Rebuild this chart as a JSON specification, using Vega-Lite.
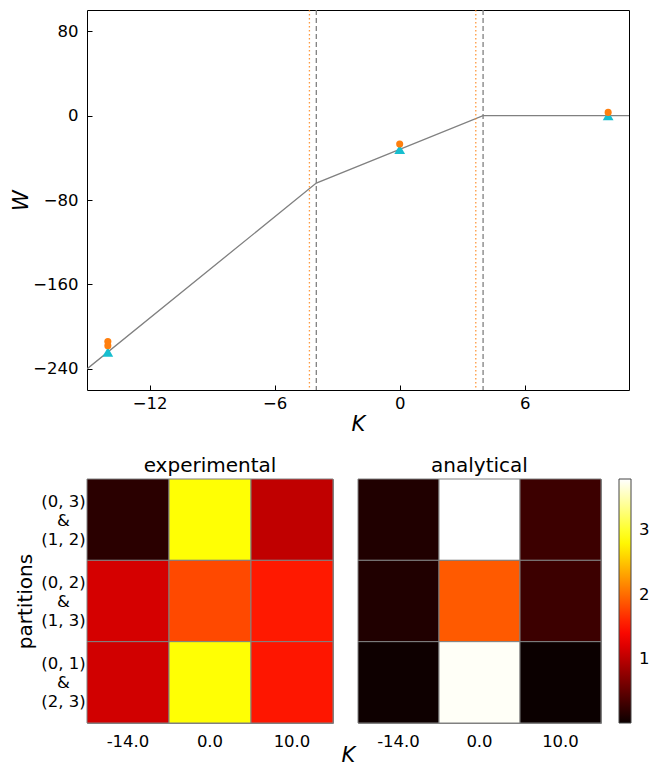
{
  "$schema": "https://vega.github.io/schema/vega-lite/v6.json",
  "padding": {"left": 10, "top": 8, "right": 5, "bottom": 5},
  "config": {
    "font": "DejaVu Sans",
    "axis": {"labelFont": "DejaVu Sans", "titleFont": "DejaVu Sans", "labelFontSize": 16.5, "titleFontSize": 21, "labelColor": "black", "titleColor": "black", "grid": false, "domain": false, "titleFontWeight": "normal"},
    "title": {"font": "DejaVu Sans", "fontWeight": "normal", "color": "black", "fontSize": 20},
    "legend": {"labelFont": "DejaVu Sans", "labelFontSize": 16.5}
  },
  "datasets": {
    "line": [{"K": -15, "W": -240}, {"K": -4, "W": -64}, {"K": 4, "W": 0}, {"K": 11, "W": 0}],
    "exp_pts": [{"K": -14, "W": -214}, {"K": -14, "W": -218}, {"K": 0, "W": -27}, {"K": 10, "W": 3}],
    "ana_pts": [{"K": -14, "W": -224}, {"K": 0, "W": -32}, {"K": 10, "W": 0}],
    "gray_lines": [{"K": -4}, {"K": 4}],
    "orange_lines": [{"K": -4.33}, {"K": 3.65}],
    "experimental": [
      {"K": "-14.0", "partition": "(0, 3) & (1, 2)", "value": 0.18},
      {"K": "0.0", "partition": "(0, 3) & (1, 2)", "value": 2.85},
      {"K": "10.0", "partition": "(0, 3) & (1, 2)", "value": 1.03},
      {"K": "-14.0", "partition": "(0, 2) & (1, 3)", "value": 1.15},
      {"K": "0.0", "partition": "(0, 2) & (1, 3)", "value": 1.8},
      {"K": "10.0", "partition": "(0, 2) & (1, 3)", "value": 1.53},
      {"K": "-14.0", "partition": "(0, 1) & (2, 3)", "value": 1.13},
      {"K": "0.0", "partition": "(0, 1) & (2, 3)", "value": 2.85},
      {"K": "10.0", "partition": "(0, 1) & (2, 3)", "value": 1.51}
    ],
    "analytical": [
      {"K": "-14.0", "partition": "(0, 3) & (1, 2)", "value": 0.12},
      {"K": "0.0", "partition": "(0, 3) & (1, 2)", "value": 3.8},
      {"K": "10.0", "partition": "(0, 3) & (1, 2)", "value": 0.28},
      {"K": "-14.0", "partition": "(0, 2) & (1, 3)", "value": 0.12},
      {"K": "0.0", "partition": "(0, 2) & (1, 3)", "value": 1.9},
      {"K": "10.0", "partition": "(0, 2) & (1, 3)", "value": 0.28},
      {"K": "-14.0", "partition": "(0, 1) & (2, 3)", "value": 0.02},
      {"K": "0.0", "partition": "(0, 1) & (2, 3)", "value": 3.77},
      {"K": "10.0", "partition": "(0, 1) & (2, 3)", "value": 0.0}
    ]
  },
  "vconcat": [
    {
      "width": 542,
      "height": 380,
      "view": {"stroke": "black", "strokeWidth": 1},
      "layer": [
        {
          "data": {"name": "line"},
          "mark": {"type": "line", "color": "#808080", "strokeWidth": 1.3, "clip": true},
          "encoding": {
            "x": {"field": "K", "type": "quantitative", "scale": {"domain": [-15, 11], "nice": false, "zero": false},
                  "axis": {"orient": "bottom", "values": [-12, -6, 0, 6], "tickSize": -5, "tickColor": "black", "labelPadding": 10, "labelFontSize": 16.5, "title": "K", "titleFontSize": 21, "titleFontStyle": "italic", "titlePadding": 2}},
            "y": {"field": "W", "type": "quantitative", "scale": {"domain": [-260, 100], "nice": false, "zero": false},
                  "axis": {"orient": "left", "values": [80, 0, -80, -160, -240], "tickSize": -5, "tickColor": "black", "labelPadding": 14, "labelFontSize": 16.5, "title": "W", "titleFontSize": 21, "titleFontStyle": "italic", "titlePadding": 1}}
          }
        },
        {
          "data": {"name": "gray_lines"},
          "mark": {"type": "rule", "color": "#808080", "strokeDash": [5, 3], "strokeWidth": 1.3},
          "encoding": {
            "x": {"field": "K", "type": "quantitative"}
          }
        },
        {
          "data": {"name": "orange_lines"},
          "mark": {"type": "rule", "color": "#ff7f0e", "strokeDash": [1.5, 2.5], "strokeWidth": 1.3, "opacity": 0.8},
          "encoding": {
            "x": {"field": "K", "type": "quantitative"}
          }
        },
        {
          "data": {"name": "ana_pts"},
          "mark": {"type": "point", "shape": "triangle-up", "filled": true, "color": "#17becf", "size": 115, "opacity": 1},
          "encoding": {
            "x": {"field": "K", "type": "quantitative"},
            "y": {"field": "W", "type": "quantitative"}
          }
        },
        {
          "data": {"name": "exp_pts"},
          "mark": {"type": "point", "shape": "circle", "filled": true, "color": "#ff7f0e", "size": 50, "opacity": 1},
          "encoding": {
            "x": {"field": "K", "type": "quantitative"},
            "y": {"field": "W", "type": "quantitative"}
          }
        }
      ]
    },
    {
      "spacing": 25,
      "bounds": "flush",
      "hconcat": [
        {
          "title": {"text": "experimental", "fontSize": 20, "offset": 3},
          "width": 246,
          "height": 244,
          "view": {"stroke": "#808080"},
          "data": {"name": "experimental"},
          "mark": {"type": "rect", "stroke": "#808080", "strokeWidth": 1},
          "encoding": {
            "x": {"field": "K", "type": "ordinal", "sort": ["-14.0", "0.0", "10.0"],
                  "axis": {"labelAngle": 0, "ticks": false, "labelFontSize": 16.5, "labelPadding": 10, "title": "K", "titleFontStyle": "italic", "titleFontSize": 21, "titleX": 261, "titleY": 32, "titleBaseline": "middle"}},
            "y": {"field": "partition", "type": "ordinal", "sort": ["(0, 3) & (1, 2)", "(0, 2) & (1, 3)", "(0, 1) & (2, 3)"],
                  "axis": {"ticks": false, "labelExpr": "[slice(datum.label, 0, 6), '&', slice(datum.label, 9)]", "labelAlign": "center", "labelPadding": 24, "labelOffset": -18, "labelFontSize": 16.5, "labelLineHeight": 19, "title": "partitions", "titleFontSize": 20, "titlePadding": 5}},
            "color": {"field": "value", "type": "quantitative",
                      "scale": {"type": "linear", "nice": false, "zero": false, "domain": [0, 0.19, 0.38, 0.57, 0.76, 0.95, 1.14, 1.33, 1.52, 1.71, 1.9, 2.09, 2.28, 2.47, 2.66, 2.85, 3.04, 3.23, 3.42, 3.61, 3.8],
                                "range": ["#0b0000", "#2c0000", "#4e0000", "#6f0000", "#900000", "#b20000", "#d30000", "#f50000", "#ff1700", "#ff3900", "#ff5a00", "#ff7c00", "#ff9d00", "#ffbf00", "#ffe000", "#ffff04", "#ffff36", "#ffff68", "#ffff9b", "#ffffcd", "#ffffff"], "interpolate": "rgb"},
                      "legend": {"orient": "none", "legendX": 532, "legendY": 469, "title": null, "direction": "vertical", "gradientLength": 244, "gradientThickness": 12, "gradientStrokeColor": "#444444", "gradientStrokeWidth": 1, "values": [1, 2, 3], "labelFontSize": 16.5, "labelOffset": 8, "labelOverlap": false, "labelColor": "black", "padding": 0}}
          }
        },
        {
          "title": {"text": "analytical", "fontSize": 20, "offset": 3},
          "width": 243,
          "height": 244,
          "view": {"stroke": "#808080"},
          "data": {"name": "analytical"},
          "mark": {"type": "rect", "stroke": "#808080", "strokeWidth": 1},
          "encoding": {
            "x": {"field": "K", "type": "ordinal", "sort": ["-14.0", "0.0", "10.0"],
                  "axis": {"labelAngle": 0, "ticks": false, "labelFontSize": 16.5, "labelPadding": 10, "title": null}},
            "y": {"field": "partition", "type": "ordinal", "sort": ["(0, 3) & (1, 2)", "(0, 2) & (1, 3)", "(0, 1) & (2, 3)"], "axis": null},
            "color": {"field": "value", "type": "quantitative",
                      "scale": {"type": "linear", "nice": false, "zero": false, "domain": [0, 0.19, 0.38, 0.57, 0.76, 0.95, 1.14, 1.33, 1.52, 1.71, 1.9, 2.09, 2.28, 2.47, 2.66, 2.85, 3.04, 3.23, 3.42, 3.61, 3.8],
                                "range": ["#0b0000", "#2c0000", "#4e0000", "#6f0000", "#900000", "#b20000", "#d30000", "#f50000", "#ff1700", "#ff3900", "#ff5a00", "#ff7c00", "#ff9d00", "#ffbf00", "#ffe000", "#ffff04", "#ffff36", "#ffff68", "#ffff9b", "#ffffcd", "#ffffff"], "interpolate": "rgb"}}
          }
        }
      ]
    }
  ],
  "spacing": 20
}
